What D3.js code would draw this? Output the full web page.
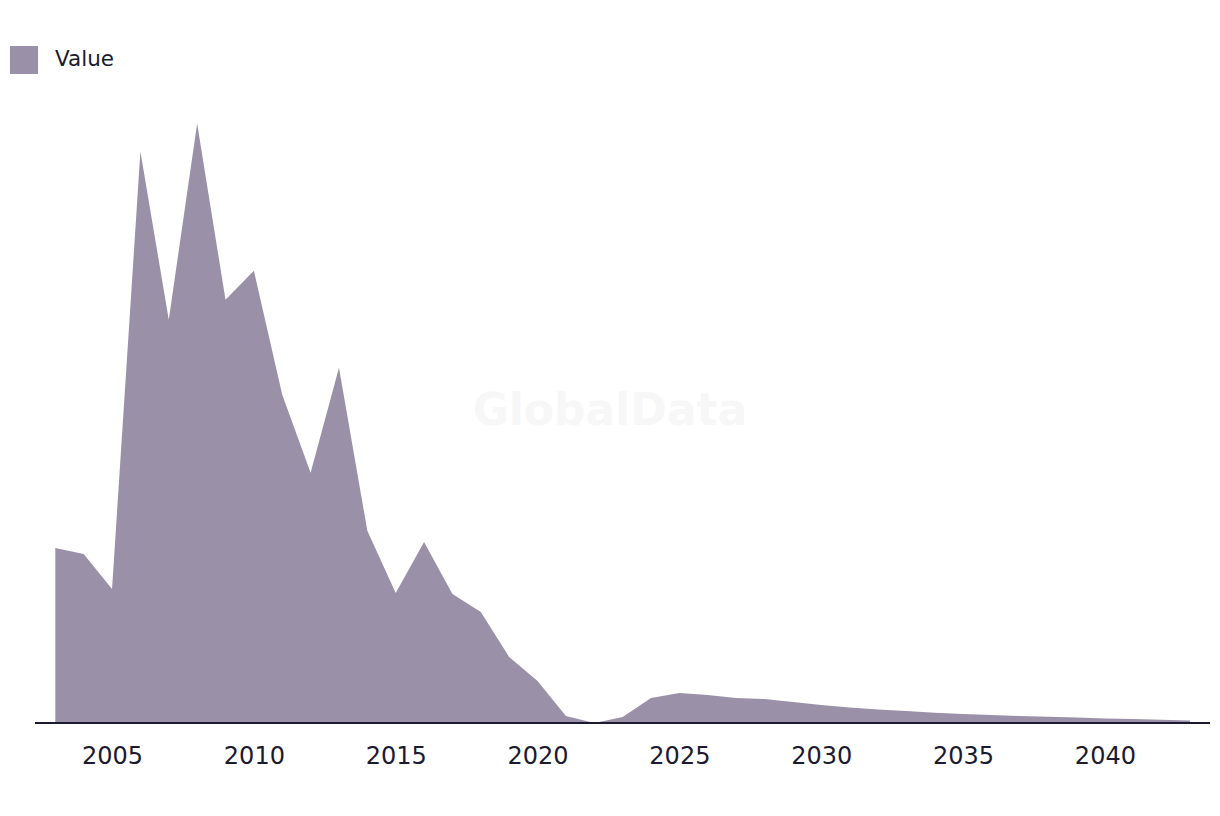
<!DOCTYPE html>
<html>
<head>
<meta charset="utf-8">
<script src="https://cdn.jsdelivr.net/npm/d3@7"></script>
<style>
  html, body { margin: 0; padding: 0; background: #ffffff; }
  svg { display: block; }
  text { font-family: "DejaVu Sans", "Liberation Sans", Arial, sans-serif; }
</style>
</head>
<body>
<svg id="chart" width="1220" height="816"></svg>
<script>
const years = d3.range(2003, 2044);
const values = [175, 169, 134, 571, 403, 599, 423, 452, 328, 250, 355, 192, 130, 181, 129, 111, 66, 42, 7, 0,
                6, 25, 30, 28, 25, 24, 21, 18, 15.6, 13.6, 12, 10.3, 9, 8, 7, 6.3, 5.6, 4.6, 4, 3.3, 2.6];
const tickYears = [2005, 2010, 2015, 2020, 2025, 2030, 2035, 2040];
const seriesName = "Value";

const data = years.map((y, i) => ({ year: y, value: values[i] }));

const svg = d3.select("#chart");
const fill = "#9a91a9";
const ink = "#1b1a2e";

const x = d3.scaleLinear().domain([2003, 2043]).range([55.3, 1190]);
const y = d3.scaleLinear().domain([0, 600]).range([723, 122.6]);

// watermark
svg.append("text")
  .attr("x", 610).attr("y", 425)
  .attr("text-anchor", "middle")
  .attr("font-size", 44).attr("font-weight", "bold")
  .attr("font-family", "'Liberation Sans', Arial, sans-serif")
  .attr("fill", "#f7f7f7")
  .text("GlobalData");

const area = d3.area()
  .x(d => x(d.year))
  .y0(y(0))
  .y1(d => y(d.value));

svg.append("path")
  .datum(data)
  .attr("d", area)
  .attr("fill", fill);

// axis
const axis = d3.axisBottom(x).tickValues(tickYears).tickFormat(d3.format("d")).tickSize(0).tickPadding(24);
const gx = svg.append("g").attr("transform", `translate(0,${y(0)})`).call(axis);
gx.select(".domain").remove();
gx.append("line").attr("x1", 35).attr("x2", 1210).attr("y1", 0).attr("y2", 0)
  .attr("stroke", ink).attr("stroke-width", 2);
gx.selectAll(".tick text")
  .attr("fill", ink).attr("font-size", 24)
  .attr("font-family", "'DejaVu Sans', sans-serif")
  .attr("dy", "0.71em");

// legend
const lg = svg.append("g");
lg.append("rect").attr("x", 10).attr("y", 46).attr("width", 28).attr("height", 28).attr("fill", fill);
lg.append("text").attr("x", 55).attr("y", 58).attr("dy", "0.36em")
  .attr("font-size", 21.5).attr("fill", ink).text(seriesName);
</script>
</body>
</html>
